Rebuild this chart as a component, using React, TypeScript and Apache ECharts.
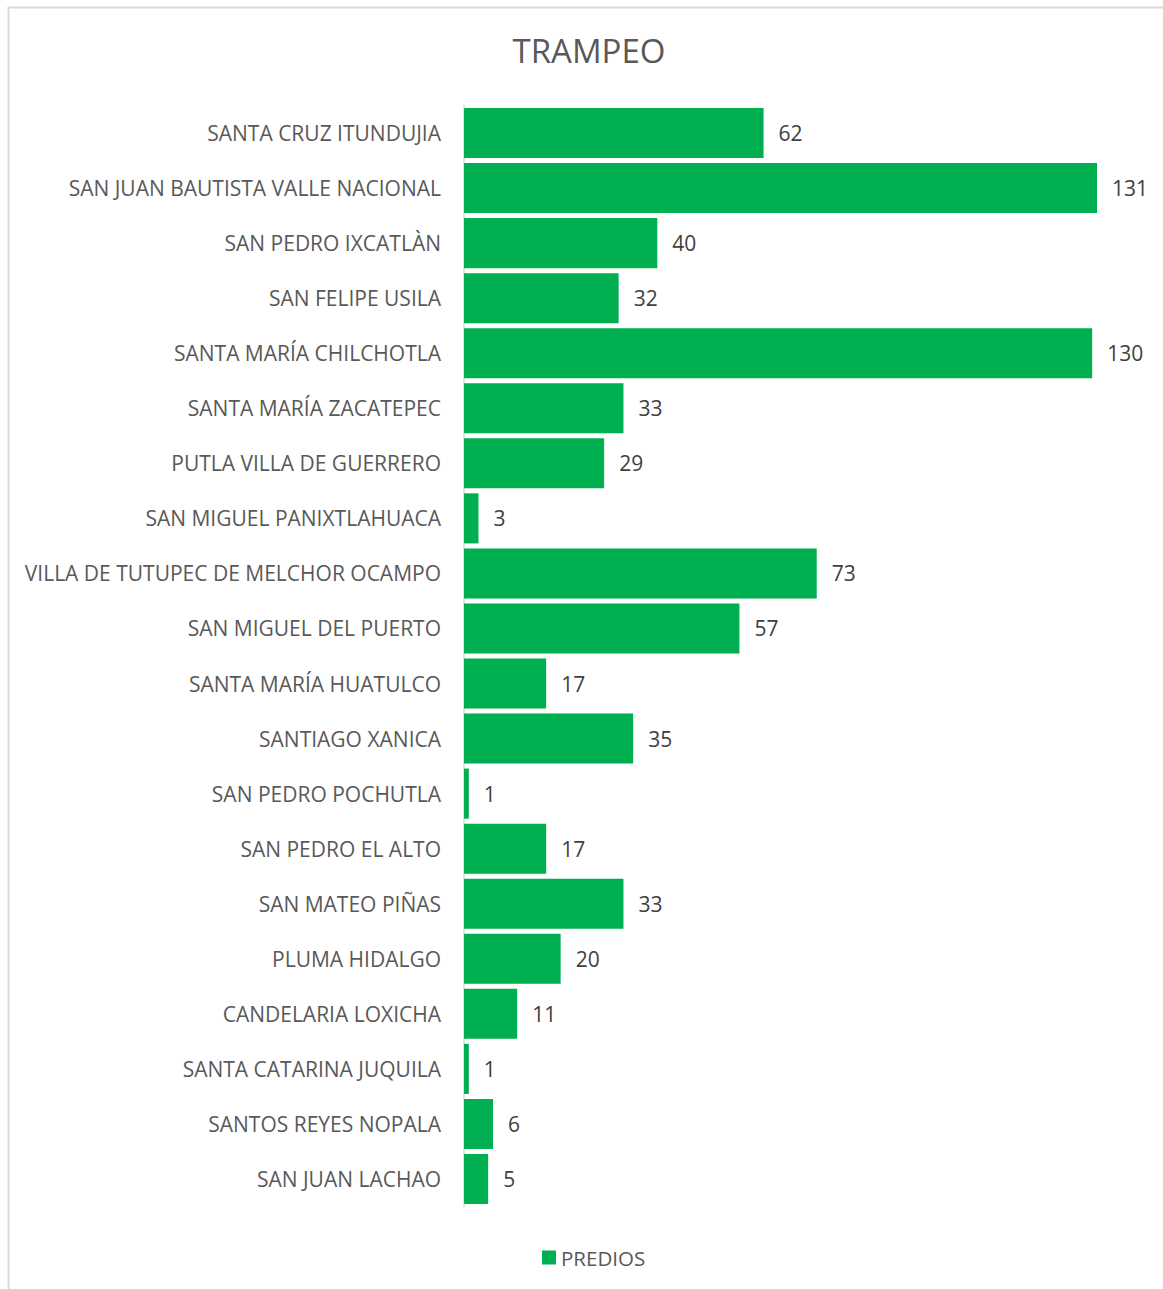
import React, { useEffect, useRef } from "react";
import * as echarts from "echarts";

const categories = [
  "SANTA CRUZ ITUNDUJIA",
  "SAN JUAN BAUTISTA VALLE NACIONAL",
  "SAN PEDRO IXCATLÀN",
  "SAN FELIPE USILA",
  "SANTA MARÍA CHILCHOTLA",
  "SANTA MARÍA ZACATEPEC",
  "PUTLA VILLA DE GUERRERO",
  "SAN MIGUEL PANIXTLAHUACA",
  "VILLA DE TUTUPEC DE MELCHOR OCAMPO",
  "SAN MIGUEL DEL PUERTO",
  "SANTA MARÍA HUATULCO",
  "SANTIAGO XANICA",
  "SAN PEDRO POCHUTLA",
  "SAN PEDRO EL ALTO",
  "SAN MATEO PIÑAS",
  "PLUMA HIDALGO",
  "CANDELARIA LOXICHA",
  "SANTA CATARINA JUQUILA",
  "SANTOS REYES NOPALA",
  "SAN JUAN LACHAO",
];
const predios = [62, 131, 40, 32, 130, 33, 29, 3, 73, 57, 17, 35, 1, 17, 33, 20, 11, 1, 6, 5];
const seriesName = "PREDIOS";
const titleText = "TRAMPEO";

const FONT = "'Open Sans', 'Noto Sans', sans-serif";

export default function App() {
  const ref = useRef<HTMLDivElement>(null);
  useEffect(() => {
    const chart = echarts.init(ref.current!, null, { renderer: "svg" });
    chart.setOption({
      animation: false,
      backgroundColor: "#ffffff",
      title: {
        text: titleText,
        left: 584,
        textAlign: "center",
        top: 29,
        textStyle: { fontFamily: FONT, fontSize: 33, fontWeight: "normal", color: "#595959" },
      },
      graphic: [
        {
          type: "rect",
          shape: { x: 8.5, y: 7.5, width: 1170, height: 1290 },
          style: { fill: "none", stroke: "#d9d9d9", lineWidth: 2 },
          silent: true,
        },
      ],
      legend: {
        data: [seriesName],
        left: 537,
        top: 1242,
        itemWidth: 14,
        itemHeight: 14,
        itemGap: 5,
        icon: "rect",
        textStyle: { fontFamily: FONT, fontSize: 20.5, color: "#595959" },
      },
      grid: { left: 464, top: 105.5, width: 676.5, height: 1101, containLabel: false },
      xAxis: {
        type: "value",
        min: 0,
        max: 140,
        show: false,
        splitLine: { show: false },
      },
      yAxis: {
        type: "category",
        inverse: true,
        data: categories,
        axisLine: { show: true, lineStyle: { color: "#d9d9d9", width: 1.5 } },
        axisTick: { show: false },
        axisLabel: { fontFamily: FONT, fontSize: 21, color: "#595959", margin: 23 },
      },
      series: [
        {
          name: seriesName,
          type: "bar",
          data: predios,
          barCategoryGap: "9%",
          itemStyle: { color: "#00b050" },
          label: {
            show: true,
            position: "right",
            distance: 15,
            fontFamily: FONT,
            fontSize: 21,
            color: "#404040",
          },
        },
      ],
    });
    return () => chart.dispose();
  }, []);
  return (
    <div
      ref={ref}
      style={{ position: "absolute", left: 0, top: 0, width: 1163, height: 1289 }}
    />
  );
}
